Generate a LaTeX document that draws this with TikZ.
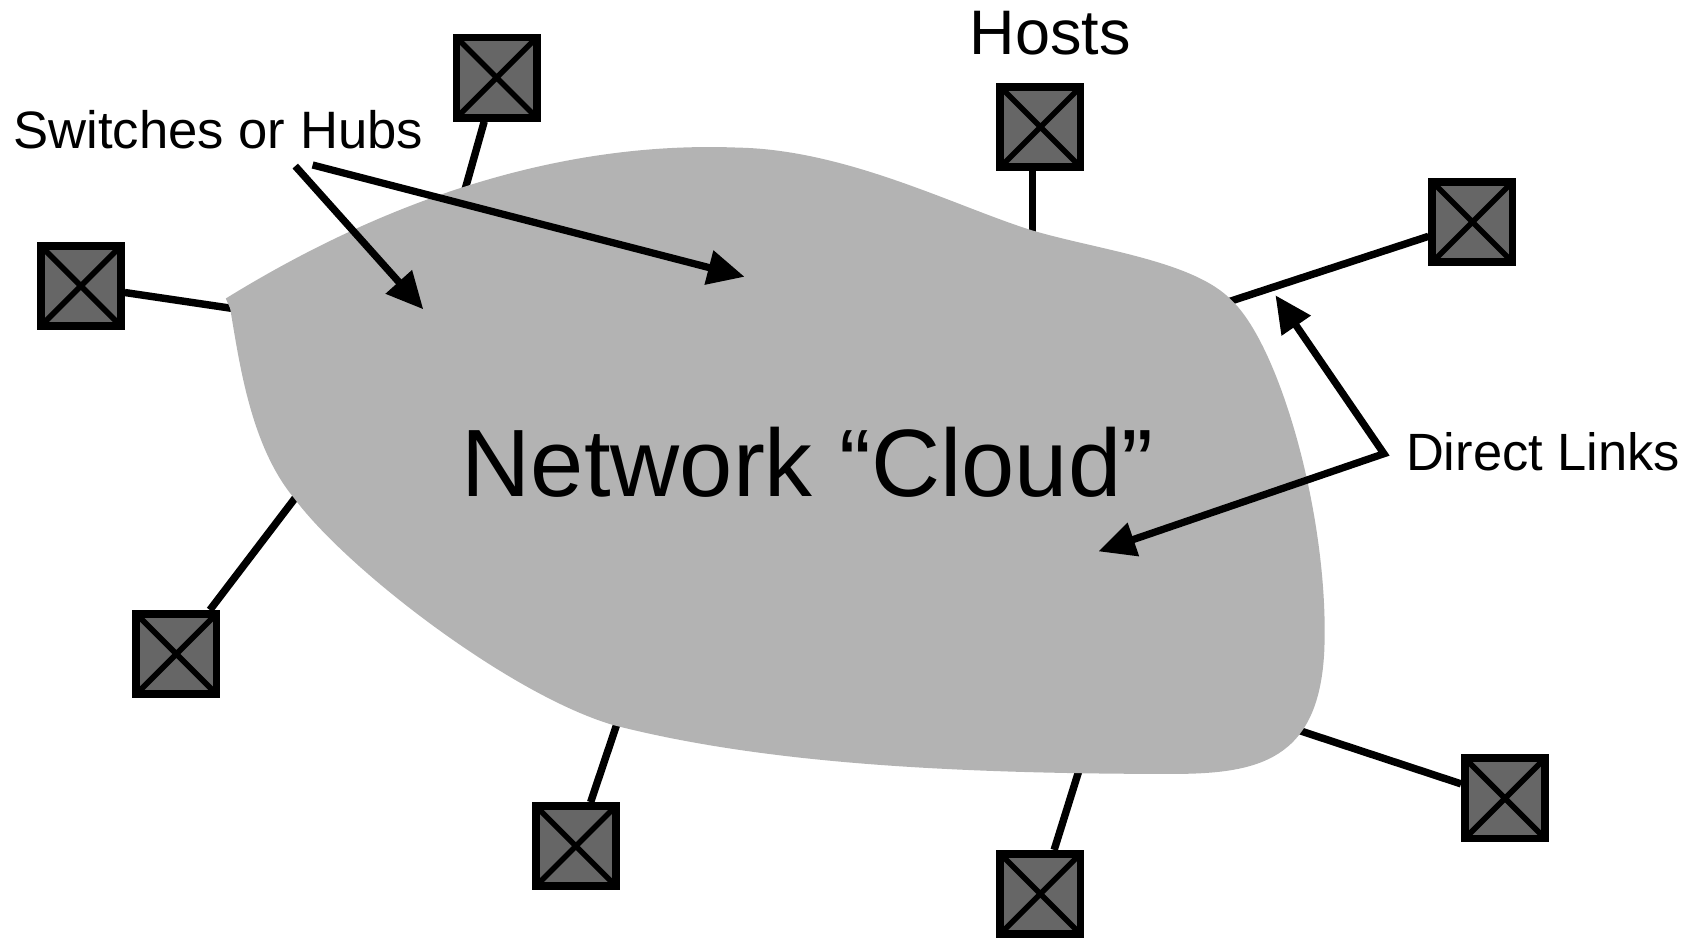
\documentclass[tikz,border=0pt]{standalone}
\usepackage{fontspec}
\setmainfont{Liberation Sans}
\usetikzlibrary{arrows.meta}
\definecolor{hostgray}{HTML}{666666}
\definecolor{cloudgray}{HTML}{B3B3B3}
\pgfdeclarelayer{back}
\pgfdeclarelayer{mid}
\pgfsetlayers{back,mid,main}
\tikzset{
  hostbox/.style={draw, line width=4pt, fill=hostgray, minimum size=1.48cm, inner sep=0pt,
    path picture={\draw[line width=2.9pt]
      (path picture bounding box.north west) -- (path picture bounding box.south east)
      (path picture bounding box.north east) -- (path picture bounding box.south west);}},
  link/.style={line width=3.9pt, shorten >=-0.25cm},
  pointer/.style={line width=3.8pt, miter limit=10, -{Triangle[length=0.68cm, width=0.62cm]}},
  pointers/.style={line width=3.8pt, miter limit=10, {Triangle[length=0.68cm, width=0.62cm]}-{Triangle[length=0.68cm, width=0.62cm]}},
  lab/.style={inner sep=0pt, anchor=base west}
}
\begin{document}
\begin{tikzpicture}[x=0.02cm, y=-0.02cm]
\useasboundingbox (0,0) rectangle (1568,864);

% hosts
\node[hostbox] (b1) at (457.5,71.5) {};
\node[hostbox] (b2) at (958.5,117) {};
\node[hostbox] (b3) at (1356.5,204.5) {};
\node[hostbox] (b4) at (74.5,263.5) {};
\node[hostbox] (b5) at (162.5,602.5) {};
\node[hostbox] (b6) at (530.5,779.5) {};
\node[hostbox] (b7) at (958.5,823.5) {};
\node[hostbox] (b8) at (1386.5,735.5) {};

% points on the cloud edge
\coordinate (c1) at (430,169);
\coordinate (c2) at (951,212);
\coordinate (c3) at (1135,277);
\coordinate (c4) at (213,284);
\coordinate (c5) at (271,460);
\coordinate (c6) at (568,668);
\coordinate (c7) at (993,713);
\coordinate (c8) at (1197,673);

\begin{pgfonlayer}{back}
\draw[link] (b1) -- (c1);
\draw[link] (b2.south -| c2) -- (c2);
\draw[link] (b3) -- (c3);
\draw[link] (b4) -- (c4);
\draw[link] (b5) -- (c5);
\draw[link] (b6) -- (c6);
\draw[link] (b7) -- (c7);
\draw[link] (b8) -- (c8);
\end{pgfonlayer}

\begin{pgfonlayer}{mid}
\fill[cloudgray] (208,275)
  .. controls (370,175) and (530,130) .. (680,136)
  .. controls (780,138) and (880,190) .. (950,212)
  .. controls (1010,230) and (1100,240) .. (1135,277)
  .. controls (1180,320) and (1225,480) .. (1220,600)
  .. controls (1215,700) and (1160,713) .. (1080,713)
  .. controls (850,713) and (690,700) .. (565,668)
  .. controls (470,640) and (320,525) .. (271,459)
  .. controls (230,410) and (220,330) .. (212,284) -- cycle;
\end{pgfonlayer}

% labels
\node[lab, font=\fontsize{27.6}{32}\selectfont] (sw) at (12,137) {Switches or Hubs};
\node[lab, font=\fontsize{33}{38}\selectfont] (hosts) at (893,50) {Hosts};
\node[lab, font=\fontsize{50.2}{58}\selectfont] (cloud) at (425,457) {Network “Cloud”};
\node[lab, font=\fontsize{27.5}{32}\selectfont] (dl) at (1295,433) {Direct Links};

% pointer coordinates
\coordinate (s1) at (272,153);
\coordinate (s2) at (288,152);
\coordinate (t1) at (390,285);
\coordinate (t2) at (686,255);
\coordinate (dv) at (1275,418);
\coordinate (d1) at (1175,272);
\coordinate (d2) at (1012,508);

\draw[pointer] (s1) -- (t1);
\draw[pointer] (s2) -- (t2);
\draw[pointers] (d1) -- (dv) -- (d2);
\end{tikzpicture}
\end{document}
